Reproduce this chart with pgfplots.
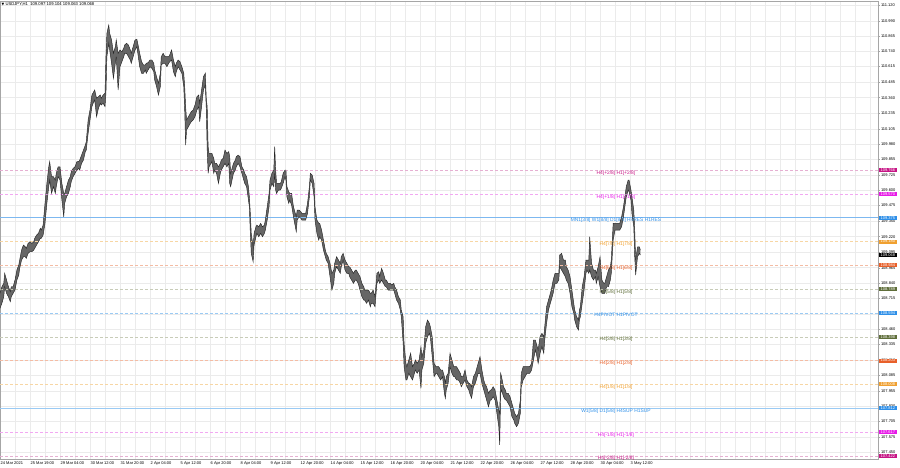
\documentclass[border=0pt]{standalone}
\usepackage{pgfplots}
\pgfplotsset{compat=1.18}
\usepackage{pgfplotstable}
\usepgfplotslibrary{fillbetween}
\usepackage{fontspec}
\setmainfont{Liberation Sans}
\newfontfamily\dejavu{DejaVu Sans}

\definecolor{lvmvr}{HTML}{C71585}
\definecolor{lvmag}{HTML}{E81AE8}
\definecolor{lvblue}{HTML}{2E8FE8}
\definecolor{lvorange}{HTML}{F0A030}
\definecolor{lvred}{HTML}{E8602A}
\definecolor{lvolive}{HTML}{5F6E3A}
% lighter line tints
\definecolor{lnmvr}{HTML}{E6B0D2}
\definecolor{lnmag}{HTML}{F2A8F2}
\definecolor{lnblue}{HTML}{7DB8F0}
\definecolor{lnbluel}{HTML}{9ACAF4}
\definecolor{lnorange}{HTML}{F7D6A4}
\definecolor{lnred}{HTML}{F4BCA4}
\definecolor{lnolive}{HTML}{C8CCB8}
\definecolor{gridc}{HTML}{EBEBEB}

\newcommand{\tkfont}{\fontsize{4}{4.8}\selectfont}
\newcommand{\lvfont}{\fontsize{4.9}{5.5}\selectfont}

% H1 bars: bar index, high, low
\pgfplotstableread{
b h l
0 108.755 108.632
2 108.809 108.673
4 108.837 108.727
5 108.919 108.809
7 108.864 108.755
9 108.809 108.727
11 108.768 108.686
12 108.809 108.727
14 108.809 108.755
16 108.864 108.782
18 108.946 108.864
20 108.987 108.905
21 109.028 108.960
23 109.110 109.028
25 109.151 109.055
27 109.137 109.055
28 109.124 109.042
30 109.165 109.083
32 109.178 109.096
34 109.165 109.096
36 109.178 109.110
37 109.206 109.124
39 109.233 109.151
41 109.247 109.178
43 109.288 109.206
44 109.274 109.206
46 109.315 109.233
48 109.493 109.329
50 109.657 109.493
52 109.793 109.630
53 109.835 109.684
55 109.712 109.575
57 109.712 109.630
59 109.684 109.575
60 109.739 109.630
62 109.793 109.712
64 109.793 109.684
66 109.657 109.520
68 109.575 109.383
69 109.575 109.493
71 109.630 109.547
73 109.684 109.575
75 109.712 109.630
76 109.753 109.671
78 109.780 109.712
80 109.793 109.739
82 109.835 109.766
84 109.835 109.780
85 109.848 109.766
87 109.889 109.821
89 109.930 109.848
91 109.971 109.917
92 109.999 109.930
94 110.177 110.067
96 110.259 110.177
98 110.382 110.286
100 110.409 110.327
101 110.423 110.341
103 110.355 110.204
105 110.368 110.273
107 110.382 110.314
108 110.355 110.300
110 110.382 110.314
112 110.396 110.286
113 110.696 110.396
114 110.888 110.696
116 110.956 110.806
117 110.888 110.751
119 110.833 110.642
121 110.724 110.519
123 110.778 110.642
124 110.833 110.696
126 110.724 110.423
128 110.751 110.614
130 110.737 110.655
132 110.765 110.696
133 110.792 110.724
135 110.806 110.724
137 110.792 110.696
139 110.751 110.669
140 110.724 110.642
142 110.778 110.696
144 110.833 110.751
146 110.839 110.778
148 110.765 110.669
149 110.724 110.614
151 110.655 110.560
153 110.628 110.560
155 110.628 110.587
156 110.642 110.560
158 110.647 110.587
160 110.669 110.614
162 110.669 110.601
164 110.642 110.573
165 110.587 110.505
167 110.532 110.450
169 110.478 110.382
171 110.560 110.450
172 110.696 110.628
174 110.724 110.642
176 110.696 110.642
178 110.696 110.614
180 110.696 110.642
181 110.710 110.655
183 110.751 110.669
185 110.669 110.573
187 110.614 110.532
188 110.642 110.573
190 110.669 110.614
192 110.655 110.587
194 110.614 110.560
196 110.560 110.450
197 110.450 110.259
198 110.286 109.971
199 110.177 110.095
201 110.204 110.122
203 110.232 110.150
204 110.245 110.163
206 110.259 110.177
208 110.300 110.204
210 110.368 110.259
212 110.382 110.286
213 110.314 110.163
215 110.423 110.286
217 110.532 110.423
219 110.560 110.464
220 110.355 110.273
221 110.286 109.930
222 109.958 109.739
223 109.903 109.793
226 109.903 109.835
228 109.862 109.739
229 109.821 109.766
231 109.821 109.739
233 109.793 109.657
235 109.821 109.739
236 109.848 109.766
238 109.862 109.793
240 109.930 109.821
242 109.903 109.793
244 109.917 109.821
245 109.876 109.657
246 109.739 109.630
249 109.821 109.739
251 109.848 109.766
252 109.876 109.793
254 109.889 109.821
256 109.876 109.793
258 109.793 109.739
260 109.766 109.684
261 109.739 109.657
263 109.712 109.630
265 109.630 109.520
266 109.547 109.465
267 109.411 109.247
268 109.247 109.083
270 109.137 109.014
271 109.247 109.151
273 109.301 109.219
274 109.315 109.247
276 109.301 109.219
278 109.329 109.247
280 109.301 109.219
282 109.315 109.247
283 109.356 109.274
285 109.465 109.356
287 109.575 109.465
288 109.684 109.602
290 109.739 109.657
292 109.766 109.630
293 109.958 109.739
294 109.766 109.602
295 109.657 109.575
297 109.657 109.602
299 109.657 109.602
300 109.671 109.616
302 109.739 109.657
304 109.766 109.712
305 109.766 109.684
306 109.630 109.547
308 109.588 109.493
309 109.575 109.520
311 109.575 109.479
313 109.465 109.383
315 109.411 109.301
316 109.383 109.260
317 109.438 109.356
319 109.438 109.383
321 109.424 109.370
322 109.411 109.356
324 109.411 109.356
326 109.411 109.356
328 109.493 109.411
330 109.630 109.547
331 109.739 109.684
333 109.725 109.657
335 109.657 109.547
336 109.465 109.356
338 109.356 109.247
340 109.329 109.192
341 109.329 109.219
343 109.274 109.192
345 109.192 109.110
347 109.110 109.055
348 109.083 109.028
350 109.055 109.001
352 109.001 108.891
354 108.919 108.782
356 108.946 108.837
357 109.001 108.919
359 109.055 108.973
361 109.028 108.946
363 109.001 108.919
364 109.055 108.973
366 109.083 109.028
368 109.028 108.946
370 109.001 108.919
372 108.973 108.919
373 108.973 108.891
375 108.946 108.864
377 108.919 108.837
379 108.946 108.864
380 108.946 108.864
382 108.919 108.837
384 108.891 108.782
386 108.837 108.727
388 108.809 108.700
389 108.782 108.700
391 108.782 108.673
393 108.782 108.700
395 108.755 108.645
396 108.755 108.673
398 108.782 108.673
400 108.727 108.645
402 108.919 108.837
404 108.932 108.864
405 108.891 108.837
407 108.960 108.864
409 108.919 108.837
411 108.864 108.809
412 108.864 108.809
414 108.837 108.782
416 108.837 108.782
418 108.823 108.782
420 108.837 108.782
421 108.809 108.755
423 108.782 108.700
425 108.727 108.673
427 108.700 108.618
428 108.618 108.563
430 108.563 108.345
431 108.345 108.153
433 108.181 108.044
434 108.153 108.044
436 108.208 108.099
438 108.263 108.071
440 108.153 108.044
442 108.181 108.099
443 108.208 108.126
445 108.181 108.099
447 108.208 108.126
449 108.317 107.976
450 108.235 108.126
452 108.290 108.181
454 108.481 108.345
456 108.536 108.399
458 108.509 108.427
459 108.481 108.399
461 108.399 108.235
463 108.181 108.071
465 108.153 108.099
466 108.153 108.099
468 108.153 108.071
470 108.126 108.044
472 108.126 108.071
474 108.071 107.935
475 108.017 107.894
476 108.071 107.962
478 108.099 108.017
480 108.263 108.153
482 108.208 108.099
484 108.153 108.071
485 108.153 108.071
487 108.153 108.044
489 108.126 108.044
491 108.099 108.017
492 108.071 107.989
494 108.071 108.017
496 108.126 108.044
498 108.044 107.989
500 108.017 107.962
501 108.017 107.935
503 107.989 107.894
505 108.071 107.989
507 108.099 108.017
508 108.126 108.044
510 108.181 108.099
512 108.235 108.099
514 108.126 108.017
516 108.044 107.962
517 108.017 107.935
519 107.989 107.880
521 107.935 107.825
523 107.962 107.880
524 107.962 107.880
526 107.989 107.907
528 107.962 107.880
530 107.880 107.771
532 107.798 107.661
533 107.771 107.511
534 108.099 107.935
535 108.071 107.962
537 107.989 107.907
539 107.962 107.880
540 107.935 107.880
542 107.935 107.853
544 107.907 107.825
546 107.853 107.743
548 107.798 107.716
549 107.771 107.689
551 107.743 107.661
553 107.771 107.689
555 107.880 107.771
556 108.099 107.989
558 108.153 108.044
560 108.153 108.071
562 108.153 108.099
564 108.153 108.099
565 108.153 108.099
567 108.181 108.126
569 108.372 108.208
571 108.372 108.290
572 108.345 108.263
574 108.290 108.181
576 108.399 108.263
578 108.427 108.317
580 108.399 108.263
581 108.481 108.372
583 108.645 108.509
585 108.700 108.618
587 108.755 108.673
588 108.782 108.700
590 108.864 108.755
592 108.919 108.837
594 108.919 108.837
596 108.919 108.864
597 109.069 108.973
599 109.083 108.946
601 109.028 108.919
603 109.028 108.891
604 108.973 108.864
606 108.946 108.837
608 108.891 108.755
610 108.782 108.645
612 108.673 108.591
613 108.618 108.536
615 108.563 108.481
617 108.536 108.454
618 108.618 108.536
619 108.645 108.563
621 108.809 108.673
623 108.891 108.782
625 109.028 108.919
626 109.028 108.946
628 109.028 108.919
629 109.219 108.946
631 109.001 108.891
633 108.946 108.864
635 108.946 108.891
636 108.919 108.837
638 108.973 108.891
640 109.055 108.809
642 108.864 108.755
644 108.837 108.755
645 108.837 108.755
647 108.891 108.809
649 108.946 108.809
651 108.973 108.864
652 109.028 108.919
654 109.329 109.192
656 109.329 109.274
658 109.329 109.274
660 109.329 109.274
661 109.329 109.274
663 109.383 109.301
665 109.465 109.383
667 109.575 109.493
668 109.630 109.547
670 109.684 109.602
671 109.684 109.588
673 109.602 109.520
674 109.547 109.411
676 109.438 109.301
677 109.274 109.055
678 109.028 108.905
680 109.137 109.055
682 109.137 109.083
683 109.110 109.069
}\prices

% level: value, text colour, line style, label
\newcommand{\level}[4]{%
  \addplot[#3, mark=none, forget plot] coordinates {(0,#1) (936.5,#1)};
  \node[text=#2, font=\lvfont, anchor=north, inner sep=0.3bp] at (axis cs:657,#1) {#4};
  \node[fill=#2, text=white, font=\tkfont, anchor=west, inner xsep=2bp, inner ysep=0.6bp, xshift=0.5bp] at (axis cs:936.5,#1) {#1};
}
\tikzset{lvdash/.style={color=#1, dash pattern=on 3bp off 2bp, line width=0.45bp}}

\begin{document}
\begin{tikzpicture}
\begin{axis}[
  at={(0bp,9bp)}, anchor=south west,
  width=878bp, height=458bp, scale only axis,
  xmin=0, xmax=936.5, ymin=107.396, ymax=111.153,
  clip mode=individual, set layers,
  axis line style={gray!70, line width=0.6bp},
  xtick={0,32,...,928},
  xticklabels={24 Mar 2021,25 Mar 19:00,29 Mar 04:00,30 Mar 12:00,31 Mar 20:00,2 Apr 04:00,5 Apr 12:00,6 Apr 20:00,8 Apr 04:00,9 Apr 12:00,12 Apr 20:00,14 Apr 04:00,15 Apr 12:00,16 Apr 20:00,20 Apr 04:00,21 Apr 12:00,22 Apr 20:00,26 Apr 04:00,27 Apr 12:00,28 Apr 20:00,30 Apr 04:00,3 May 12:00,,,,,,,,},
  minor xtick={16,48,...,912},
  ytick={107.450,107.575,107.705,107.830,107.955,108.085,108.210,108.335,108.460,108.585,108.715,108.840,108.965,109.095,109.220,109.350,109.475,109.600,109.725,109.855,109.980,110.105,110.235,110.360,110.485,110.615,110.740,110.865,110.990,111.120},
  ytick pos=right, yticklabel pos=right, xtick pos=bottom,
  grid=both,
  major grid style={gridc, line width=0.5bp},
  minor grid style={gridc, line width=0.5bp},
  xtick style={draw=none}, minor tick length=0pt,
  ytick style={gray!70, line width=0.4bp},
  major tick length=2bp, tick align=outside,
  xticklabel style={font=\tkfont, anchor=north west, inner sep=0.5bp},
  yticklabel style={font=\tkfont, anchor=west, inner sep=0.8bp},
  scaled y ticks=false,
  /pgf/number format/.cd, fixed, fixed zerofill, precision=3, assume math mode=true,
]
\level{109.766}{lvmvr}{lvdash=lnmvr}{H4[+2/8] H1[+2/8]}
\level{109.570}{lvmag}{lvdash=lnmag}{H4[+1/8] H1[+1/8]}
\level{109.375}{lvblue}{color=lnblue, line width=0.9bp}{MN1[3/8] W1[8/8] D1[8/8] H4RES H1RES}
\level{109.180}{lvorange}{lvdash=lnorange}{H4[7/8] H1[7/8]}
\level{108.984}{lvred}{lvdash=lnred}{H4[6/8] H1[6/8]}
\level{108.789}{lvolive}{lvdash=lnolive}{H4[5/8] H1[5/8]}
\level{108.594}{lvblue}{lvdash=lnbluel}{H4PIVOT H1PIVOT}
\level{108.398}{lvolive}{lvdash=lnolive}{H4[3/8] H1[3/8]}
\level{108.203}{lvred}{lvdash=lnred}{H4[2/8] H1[2/8]}
\level{108.008}{lvorange}{lvdash=lnorange}{H4[1/8] H1[1/8]}
\level{107.812}{lvblue}{color=lnbluel, line width=0.5bp}{W1[5/8] D1[5/8] H4SUP H1SUP}
\level{107.617}{lvmag}{lvdash=lnmag}{H4[-1/8] H1[-1/8]}
\level{107.422}{lvmvr}{lvdash=lnmvr}{H4[-2/8] H1[-2/8]}

\addplot[name path=hi, black!85, line width=0.45bp] table[x=b, y=h] {\prices};
\addplot[name path=lo, black!85, line width=0.45bp] table[x=b, y=l] {\prices};
\addplot[black!60] fill between[of=hi and lo];

\node[fill=black, text=white, font=\tkfont, anchor=west, inner xsep=2bp, inner ysep=0.6bp, xshift=0.5bp] at (axis cs:936.5,109.068) {109.068};
\node[anchor=west, font=\fontsize{4.2}{5}\selectfont, inner sep=0pt] at (rel axis cs:0,1) [xshift=1.5bp, yshift=-3.5bp] {{\dejavu\fontsize{3.5}{4}\selectfont ▼}\ USDJPY,H1\ \ 109.097 109.104 109.063 109.068};
\end{axis}
\pgfresetboundingbox
\path[use as bounding box] (0,0) rectangle (900bp,468bp);
\end{tikzpicture}
\end{document}
